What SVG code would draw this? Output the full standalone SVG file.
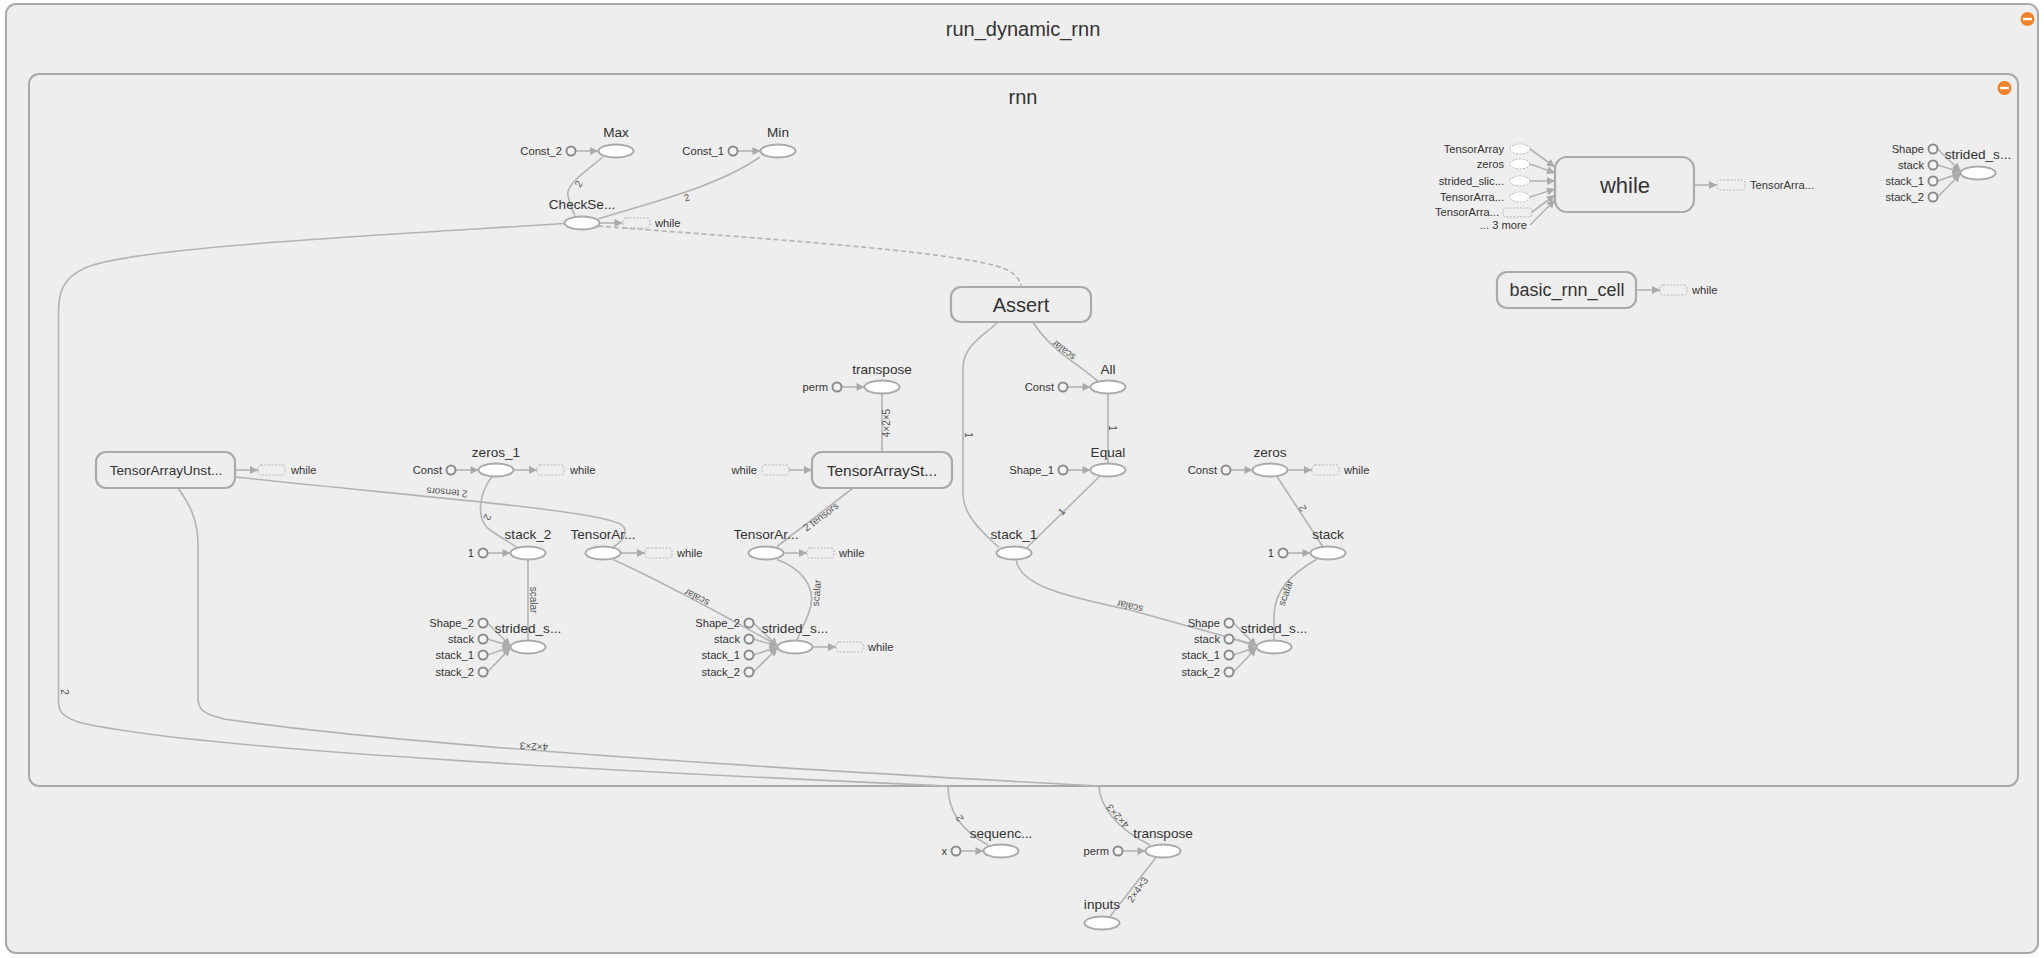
<svg xmlns="http://www.w3.org/2000/svg" width="2044" height="958" viewBox="0 0 2044 958">
<defs>
<marker id="ar" viewBox="0 0 10 10" refX="10" refY="5" markerUnits="userSpaceOnUse" markerWidth="9" markerHeight="8" orient="auto">
<path d="M0,0 L10,5 L0,10 z" fill="#aaa"/>
</marker>
<style>
text{font-family:"Liberation Sans",Arial,sans-serif;fill:#333}
.fr{fill:#eee;stroke:#a9a9a9;stroke-width:2}
.mb{fill:#eee;stroke:#aaa;stroke-width:2.2}
.op{fill:#fff;stroke:#aaa;stroke-width:2}
.cn{fill:#f4f4f4;stroke:#8c8c8c;stroke-width:2}
.e{fill:none;stroke:#b3b3b3;stroke-width:1.6}
.ea{fill:none;stroke:#b3b3b3;stroke-width:1.6;marker-end:url(#ar)}
.dash{fill:none;stroke:#b3b3b3;stroke-width:1.6;stroke-dasharray:5,3}
.db{fill:none;stroke:#b5b5b5;stroke-width:1;stroke-dasharray:2,1.5}
.de{fill:#fff;stroke:#b5b5b5;stroke-width:1;stroke-dasharray:2,1.5}
.nl{font-size:13.6px;text-anchor:middle}
.sl{font-size:11.2px;text-anchor:end}
.wl{font-size:11.2px}
.el{font-size:10px;fill:#555;text-anchor:middle}
.ttl{font-size:20px;text-anchor:middle}
</style>
</defs>
<rect x="0" y="0" width="2044" height="958" fill="#fff"/>

<g id="run_dynamic_rnn">
<rect class="fr" x="6" y="4" width="2032" height="949" rx="10"/>
<text class="ttl" x="1023" y="36">run_dynamic_rnn</text>
<circle cx="2027.5" cy="19" r="7" fill="#f0832a"/>
<rect x="2023" y="17.8" width="9" height="2.4" fill="#fff"/>
</g>

<g id="rnn">
<rect class="fr" x="29" y="74" width="1989" height="712" rx="10"/>
<text class="ttl" x="1023" y="104">rnn</text>
<circle cx="2004.5" cy="88" r="7" fill="#f0832a"/>
<rect x="2000" y="86.8" width="9" height="2.4" fill="#fff"/>
</g>

<g id="connectors">
<path class="ea" d="M575.5,151 L598,151"/>
<path class="ea" d="M737.5,151 L760.5,151"/>
<path class="e" d="M603,157 C585,172 565,185 568,196 C570,205 572,210 575,215.5"/>
<path class="e" d="M760,157 C720,185 660,200 598,219"/>
<path class="ea" d="M599.5,223 L622.5,223"/>
<path class="dash" d="M598,226 C750,238 950,250 1003,268 C1015,273 1021,280 1021,287"/>
<path class="e" d="M564,223.5 C350,237 130,248 85,268 C63,278 58.5,292 58.5,312 L58.5,700 C58.5,712 62,716 78,722 C200,752 700,775 948,786 C948,805 956,828 988,845"/>
<path class="e" d="M178,488 C190,505 198,520 198,545 L198,698 C198,710 204,714 224,719 C400,745 800,770 1099,786 C1100,805 1115,828 1150,845"/>
<path class="ea" d="M235,470 L258,470"/>
<path class="e" d="M235,477 C420,497 600,510 622,525 C630,532 622,542 613,547"/>
<path class="ea" d="M455.5,470 L478.5,470"/>
<path class="ea" d="M513.5,470 L537,470"/>
<path class="e" d="M492,476.5 C478,495 476,520 490,530 C503,539 511,543 517,547.5"/>
<path class="ea" d="M487.5,553 L510.5,553"/>
<path class="e" d="M528,559.5 L528,640.5"/>
<path class="ea" d="M620.5,553 L645,553"/>
<path class="ea" d="M487.5,623 L510.5,646"/>
<path class="ea" d="M487.5,639 L510.5,646"/>
<path class="ea" d="M487.5,655 L510.5,647"/>
<path class="ea" d="M487.5,672 L510.5,648"/>
<path class="ea" d="M841.5,387 L864.5,387"/>
<path class="e" d="M882,393.5 L882,452"/>
<path class="ea" d="M789,470 L812,470"/>
<path class="e" d="M853,488 L777,546.5"/>
<path class="ea" d="M783.5,553 L807,553"/>
<path class="e" d="M613,559.5 C680,590 740,625 777,645"/>
<path class="e" d="M777,559.5 C800,568 815,585 811,605 C808,620 800,630 797,640.5"/>
<path class="ea" d="M753.5,623 L777.5,646"/>
<path class="ea" d="M753.5,639 L777.5,646"/>
<path class="ea" d="M753.5,655 L777.5,647"/>
<path class="ea" d="M753.5,672 L777.5,648"/>
<path class="ea" d="M812.5,647 L836,647"/>
<path class="e" d="M998,322 C985,335 963,345 963,368 L963,493 C963,515 980,530 999,547.5"/>
<path class="e" d="M1033,322 C1050,350 1080,365 1098,381.5"/>
<path class="ea" d="M1067.5,387 L1090.5,387"/>
<path class="e" d="M1108,393.5 L1108,463.5"/>
<path class="ea" d="M1067.5,470 L1090.5,470"/>
<path class="e" d="M1100,476 L1027,547.5"/>
<path class="e" d="M1016,559.5 C1020,585 1060,595 1130,610 L1256,645"/>
<path class="ea" d="M1230.5,470 L1252.5,470"/>
<path class="ea" d="M1287.5,470 L1312,470"/>
<path class="e" d="M1277,476.5 L1323,547"/>
<path class="ea" d="M1287.5,553 L1310.5,553"/>
<path class="e" d="M1317,559 C1290,575 1275,590 1274,615 L1274,640.5"/>
<path class="ea" d="M1233.5,623 L1256.5,646"/>
<path class="ea" d="M1233.5,639 L1256.5,646"/>
<path class="ea" d="M1233.5,655 L1256.5,647"/>
<path class="ea" d="M1233.5,672 L1256.5,648"/>
<path class="ea" d="M1530,149 L1555,167"/>
<path class="ea" d="M1530,164 L1555,173"/>
<path class="ea" d="M1530,181 L1555,181"/>
<path class="ea" d="M1530,197 L1555,189"/>
<path class="ea" d="M1532,212 L1555,195"/>
<path class="ea" d="M1530,225 L1555,200"/>
<path class="ea" d="M1694,185 L1717,185"/>
<path class="ea" d="M1636,290 L1660,290"/>
<path class="ea" d="M1937.5,149 L1960.5,171"/>
<path class="ea" d="M1937.5,165 L1960.5,172"/>
<path class="ea" d="M1937.5,181 L1960.5,173"/>
<path class="ea" d="M1937.5,197 L1960.5,174"/>
<path class="ea" d="M960.5,851 L983.5,851"/>
<path class="ea" d="M1122.5,851 L1145.5,851"/>
<path class="e" d="M1110,916.5 L1156,857.5"/>
<text class="el" transform="translate(579,184) rotate(-60)" dy="3">2</text>
<text class="el" transform="translate(687,198) rotate(-18)" dy="3">2</text>
<text class="el" transform="translate(64,692) rotate(90)" dy="3">2</text>
<text class="el" transform="translate(447,492) rotate(185)" dy="3">2 tensors</text>
<text class="el" transform="translate(487,517) rotate(115)" dy="3">2</text>
<text class="el" transform="translate(533,600) rotate(90)" dy="3">scalar</text>
<text class="el" transform="translate(697,597) rotate(207)" dy="3">scalar</text>
<text class="el" transform="translate(887,423) rotate(-90)" dy="3">4×2×5</text>
<text class="el" transform="translate(821,517) rotate(-37)" dy="3">2 tensors</text>
<text class="el" transform="translate(817,593) rotate(-85)" dy="3">scalar</text>
<text class="el" transform="translate(968,435) rotate(90)" dy="3">1</text>
<text class="el" transform="translate(1064,350) rotate(218)" dy="3">scalar</text>
<text class="el" transform="translate(1112,428) rotate(90)" dy="3">1</text>
<text class="el" transform="translate(1062,512) rotate(-44)" dy="3">1</text>
<text class="el" transform="translate(1130,606) rotate(194)" dy="3">scalar</text>
<text class="el" transform="translate(1303,508) rotate(236)" dy="3">2</text>
<text class="el" transform="translate(1286,593) rotate(-70)" dy="3">scalar</text>
<text class="el" transform="translate(534,746) rotate(183.5)" dy="3">4×2×3</text>
<text class="el" transform="translate(960,818) rotate(236)" dy="3">2</text>
<text class="el" transform="translate(1118,816) rotate(228)" dy="3">4×2×3</text>
<text class="el" transform="translate(1138,890) rotate(-55)" dy="3">2×4×3</text>
</g>

<g id="Max">
<ellipse class="op" cx="616" cy="151" rx="17.5" ry="6.5"/>
<text class="nl" x="616" y="137">Max</text>
<circle class="cn" cx="571" cy="151" r="4.5"/>
<text class="sl" x="562" y="155">Const_2</text>
</g>
<g id="Min">
<ellipse class="op" cx="778" cy="151" rx="17.5" ry="6.5"/>
<text class="nl" x="778" y="137">Min</text>
<circle class="cn" cx="733" cy="151" r="4.5"/>
<text class="sl" x="724" y="155">Const_1</text>
</g>
<g id="CheckSe">
<ellipse class="op" cx="582" cy="223" rx="17.5" ry="6.5"/>
<text class="nl" x="582" y="209">CheckSe...</text>
<rect class="db" x="623" y="218" width="27" height="10" rx="3"/>
<text class="wl" x="655" y="227">while</text>
</g>
<g id="Assert">
<rect class="mb" x="951" y="287" width="140" height="35" rx="10"/>
<text x="1021" y="312" font-size="20" text-anchor="middle">Assert</text>
</g>
<g id="TensorArrayUnst">
<rect class="mb" x="96" y="452" width="139" height="36" rx="10"/>
<text x="166" y="475" font-size="13.6" text-anchor="middle">TensorArrayUnst...</text>
<rect class="db" x="258" y="465" width="27" height="10" rx="3"/>
<text class="wl" x="291" y="474">while</text>
</g>
<g id="zeros_1">
<ellipse class="op" cx="496" cy="470" rx="17.5" ry="6.5"/>
<text class="nl" x="496" y="457">zeros_1</text>
<circle class="cn" cx="451" cy="470" r="4.5"/>
<text class="sl" x="442" y="474">Const</text>
<rect class="db" x="537" y="465" width="27" height="10" rx="3"/>
<text class="wl" x="570" y="474">while</text>
</g>
<g id="stack_2">
<ellipse class="op" cx="528" cy="553" rx="17.5" ry="6.5"/>
<text class="nl" x="528" y="539">stack_2</text>
<circle class="cn" cx="483" cy="553" r="4.5"/>
<text class="sl" x="474" y="557">1</text>
</g>
<g id="TensorAr_1">
<ellipse class="op" cx="603" cy="553" rx="17.5" ry="6.5"/>
<text class="nl" x="603" y="539">TensorAr...</text>
<rect class="db" x="645" y="548" width="27" height="10" rx="3"/>
<text class="wl" x="677" y="557">while</text>
</g>
<g id="strided_s_1">
<ellipse class="op" cx="528" cy="647" rx="17.5" ry="6.5"/>
<text class="nl" x="528" y="633">strided_s...</text>
<circle class="cn" cx="483" cy="623" r="4.5"/>
<circle class="cn" cx="483" cy="639" r="4.5"/>
<circle class="cn" cx="483" cy="655" r="4.5"/>
<circle class="cn" cx="483" cy="672" r="4.5"/>
<text class="sl" x="474" y="627">Shape_2</text>
<text class="sl" x="474" y="643">stack</text>
<text class="sl" x="474" y="659">stack_1</text>
<text class="sl" x="474" y="676">stack_2</text>
</g>
<g id="transpose_1">
<ellipse class="op" cx="882" cy="387" rx="17.5" ry="6.5"/>
<text class="nl" x="882" y="374">transpose</text>
<circle class="cn" cx="837" cy="387" r="4.5"/>
<text class="sl" x="828" y="391">perm</text>
</g>
<g id="TensorArraySt">
<rect class="mb" x="812" y="452" width="140" height="36" rx="10"/>
<text x="882" y="475.5" font-size="15.4" text-anchor="middle">TensorArraySt...</text>
<rect class="db" x="762" y="465" width="27" height="10" rx="3"/>
<text class="sl" x="757" y="474">while</text>
</g>
<g id="TensorAr_2">
<ellipse class="op" cx="766" cy="553" rx="17.5" ry="6.5"/>
<text class="nl" x="766" y="539">TensorAr...</text>
<rect class="db" x="807" y="548" width="27" height="10" rx="3"/>
<text class="wl" x="839" y="557">while</text>
</g>
<g id="strided_s_2">
<ellipse class="op" cx="795" cy="647" rx="17.5" ry="6.5"/>
<text class="nl" x="795" y="633">strided_s...</text>
<circle class="cn" cx="749" cy="623" r="4.5"/>
<circle class="cn" cx="749" cy="639" r="4.5"/>
<circle class="cn" cx="749" cy="655" r="4.5"/>
<circle class="cn" cx="749" cy="672" r="4.5"/>
<text class="sl" x="740" y="627">Shape_2</text>
<text class="sl" x="740" y="643">stack</text>
<text class="sl" x="740" y="659">stack_1</text>
<text class="sl" x="740" y="676">stack_2</text>
<rect class="db" x="836" y="642" width="27" height="10" rx="3"/>
<text class="wl" x="868" y="651">while</text>
</g>
<g id="All">
<ellipse class="op" cx="1108" cy="387" rx="17.5" ry="6.5"/>
<text class="nl" x="1108" y="374">All</text>
<circle class="cn" cx="1063" cy="387" r="4.5"/>
<text class="sl" x="1054" y="391">Const</text>
</g>
<g id="Equal">
<ellipse class="op" cx="1108" cy="470" rx="17.5" ry="6.5"/>
<text class="nl" x="1108" y="457">Equal</text>
<circle class="cn" cx="1063" cy="470" r="4.5"/>
<text class="sl" x="1054" y="474">Shape_1</text>
</g>
<g id="stack_1">
<ellipse class="op" cx="1014" cy="553" rx="17.5" ry="6.5"/>
<text class="nl" x="1014" y="539">stack_1</text>
</g>
<g id="zeros">
<ellipse class="op" cx="1270" cy="470" rx="17.5" ry="6.5"/>
<text class="nl" x="1270" y="457">zeros</text>
<circle class="cn" cx="1226" cy="470" r="4.5"/>
<text class="sl" x="1217" y="474">Const</text>
<rect class="db" x="1312" y="465" width="27" height="10" rx="3"/>
<text class="wl" x="1344" y="474">while</text>
</g>
<g id="stack">
<ellipse class="op" cx="1328" cy="553" rx="17.5" ry="6.5"/>
<text class="nl" x="1328" y="539">stack</text>
<circle class="cn" cx="1283" cy="553" r="4.5"/>
<text class="sl" x="1274" y="557">1</text>
</g>
<g id="strided_s_3">
<ellipse class="op" cx="1274" cy="647" rx="17.5" ry="6.5"/>
<text class="nl" x="1274" y="633">strided_s...</text>
<circle class="cn" cx="1229" cy="623" r="4.5"/>
<circle class="cn" cx="1229" cy="639" r="4.5"/>
<circle class="cn" cx="1229" cy="655" r="4.5"/>
<circle class="cn" cx="1229" cy="672" r="4.5"/>
<text class="sl" x="1220" y="627">Shape</text>
<text class="sl" x="1220" y="643">stack</text>
<text class="sl" x="1220" y="659">stack_1</text>
<text class="sl" x="1220" y="676">stack_2</text>
</g>
<g id="while">
<rect class="mb" x="1555" y="157" width="139" height="55" rx="12"/>
<text x="1625" y="193" font-size="22" text-anchor="middle">while</text>
<ellipse class="de" cx="1520" cy="149" rx="10" ry="5"/>
<ellipse class="de" cx="1520" cy="164" rx="10" ry="5"/>
<ellipse class="de" cx="1520" cy="181" rx="10" ry="5"/>
<ellipse class="de" cx="1520" cy="197" rx="10" ry="5"/>
<rect class="db" x="1503" y="208" width="29" height="9" rx="3"/>
<text class="sl" x="1504" y="153">TensorArray</text>
<text class="sl" x="1504" y="168">zeros</text>
<text class="sl" x="1504" y="185">strided_slic...</text>
<text class="sl" x="1504" y="201">TensorArra...</text>
<text class="sl" x="1499" y="216">TensorArra...</text>
<text class="sl" x="1527" y="229">... 3 more</text>
<rect class="db" x="1717" y="180" width="28" height="10" rx="3"/>
<text class="wl" x="1750" y="189">TensorArra...</text>
</g>
<g id="basic_rnn_cell">
<rect class="mb" x="1497" y="272" width="139" height="36" rx="10"/>
<text x="1567" y="296" font-size="18" text-anchor="middle">basic_rnn_cell</text>
<rect class="db" x="1660" y="285" width="27" height="10" rx="3"/>
<text class="wl" x="1692" y="294">while</text>
</g>
<g id="strided_s_top">
<ellipse class="op" cx="1978" cy="173" rx="17.5" ry="6.5"/>
<text class="nl" x="1978" y="159">strided_s...</text>
<circle class="cn" cx="1933" cy="149" r="4.5"/>
<circle class="cn" cx="1933" cy="165" r="4.5"/>
<circle class="cn" cx="1933" cy="181" r="4.5"/>
<circle class="cn" cx="1933" cy="197" r="4.5"/>
<text class="sl" x="1924" y="153">Shape</text>
<text class="sl" x="1924" y="169">stack</text>
<text class="sl" x="1924" y="185">stack_1</text>
<text class="sl" x="1924" y="201">stack_2</text>
</g>
<g id="sequenc">
<ellipse class="op" cx="1001" cy="851" rx="17.5" ry="6.5"/>
<text class="nl" x="1001" y="838">sequenc...</text>
<circle class="cn" cx="956" cy="851" r="4.5"/>
<text class="sl" x="947" y="855">x</text>
</g>
<g id="transpose">
<ellipse class="op" cx="1163" cy="851" rx="17.5" ry="6.5"/>
<text class="nl" x="1163" y="838">transpose</text>
<circle class="cn" cx="1118" cy="851" r="4.5"/>
<text class="sl" x="1109" y="855">perm</text>
</g>
<g id="inputs">
<ellipse class="op" cx="1102" cy="923" rx="17.5" ry="6.5"/>
<text class="nl" x="1102" y="909">inputs</text>
</g>
</svg>
